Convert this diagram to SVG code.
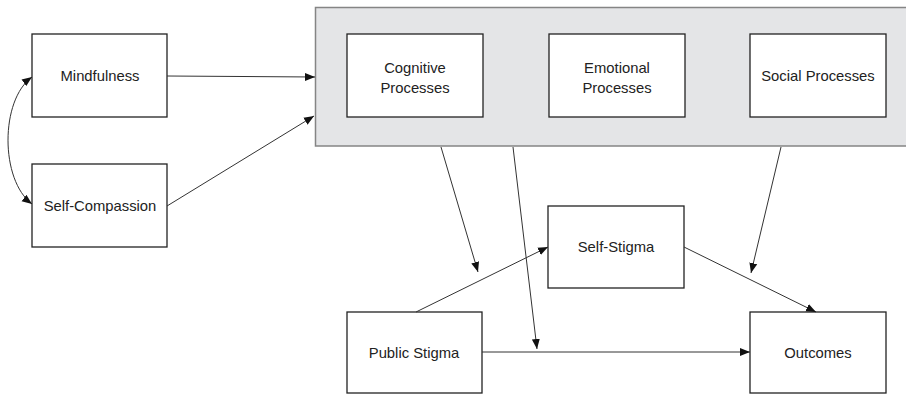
<svg xmlns="http://www.w3.org/2000/svg" width="906" height="395" viewBox="0 0 906 395">
<style>
.box{fill:#fff;stroke:#222;stroke-width:1.3}
.grp{fill:#e4e5e7;stroke:#858585;stroke-width:1.5}
.t{font-family:"Liberation Sans",Arial,sans-serif;font-size:14.8px;fill:#222;text-anchor:middle}
.c{stroke:#333;stroke-width:1;fill:none}
</style>
<defs>
<marker id="ah" viewBox="0 0 10 10" refX="10" refY="5" markerWidth="10" markerHeight="10" markerUnits="userSpaceOnUse" orient="auto-start-reverse">
<path d="M0,1 L10,5 L0,9 Z" fill="#111"/>
</marker>
</defs>
<rect class="grp" x="315.5" y="7.5" width="592" height="138.5"/>
<g id="mindfulness"><rect class="box" x="32" y="34" width="135" height="83"/><text class="t" x="100" y="81">Mindfulness</text></g>
<g id="self-compassion"><rect class="box" x="32" y="164" width="135" height="83"/><text class="t" x="100" y="211">Self-Compassion</text></g>
<g id="cognitive"><rect class="box" x="347" y="34" width="136" height="83"/><text class="t" x="415" y="73">Cognitive</text><text class="t" x="415" y="93">Processes</text></g>
<g id="emotional"><rect class="box" x="549" y="34" width="136" height="83"/><text class="t" x="617" y="73">Emotional</text><text class="t" x="617" y="93">Processes</text></g>
<g id="social"><rect class="box" x="750" y="34" width="136" height="83"/><text class="t" x="818" y="81">Social Processes</text></g>
<g id="self-stigma"><rect class="box" x="548" y="206" width="136" height="82"/><text class="t" x="616" y="252">Self-Stigma</text></g>
<g id="public-stigma"><rect class="box" x="347" y="312" width="135" height="81"/><text class="t" x="414" y="358">Public Stigma</text></g>
<g id="outcomes"><rect class="box" x="750" y="312" width="136" height="81"/><text class="t" x="818" y="358">Outcomes</text></g>
<g id="connectors">
<path class="c" d="M167,76 L315,77" marker-end="url(#ah)"/>
<path class="c" d="M167,206 L314,116" marker-end="url(#ah)"/>
<path class="c" d="M32,77 C0,100 0,180 32,204" marker-start="url(#ah)" marker-end="url(#ah)"/>
<path class="c" d="M441,147 L478,272" marker-end="url(#ah)"/>
<path class="c" d="M416,312 L548,247" marker-end="url(#ah)"/>
<path class="c" d="M513,147 L537,349" marker-end="url(#ah)"/>
<path class="c" d="M482,352 L750,352" marker-end="url(#ah)"/>
<path class="c" d="M781,147 L751,273" marker-end="url(#ah)"/>
<path class="c" d="M684,247 L816,312" marker-end="url(#ah)"/>
</g>
</svg>
